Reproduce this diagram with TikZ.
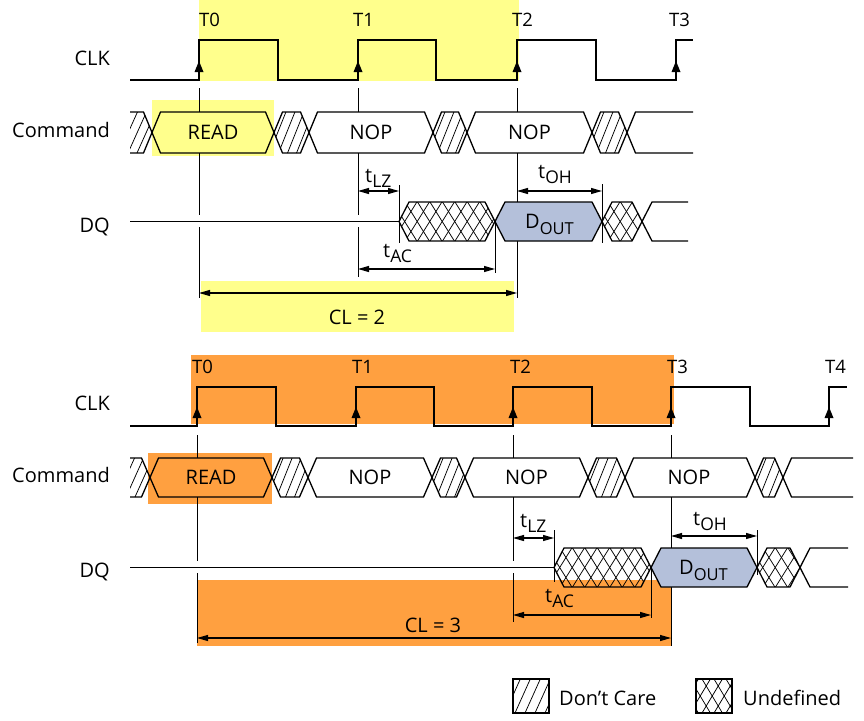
\documentclass[tikz,border=0pt]{standalone}
\usepackage{fontspec}
\setmainfont{Open Sans}
\usetikzlibrary{arrows.meta}
\definecolor{hlyellow}{RGB}{255,255,140}
\definecolor{hlorange}{RGB}{255,160,64}
\definecolor{doutblue}{RGB}{180,192,218}
\tikzset{
  sig/.style={line width=1.3pt, line join=miter},
  guide/.style={line width=1pt},
  hatchline/.style={line width=0.75pt},
  dimarrow/.style={line width=1.1pt, {Triangle[length=11pt,width=6pt]}-{Triangle[length=11pt,width=6pt]}},
  lbl/.style={font=\fontsize{20}{24}\selectfont, inner sep=0pt},
  tlbl/.style={font=\fontsize{18.5}{20}\selectfont, inner sep=0pt, anchor=base west},
  rowlbl/.style={lbl, anchor=base east},
  sublbl/.style={lbl, anchor=base west},
  boxfill/.style={fill=doutblue},
}
\newcommand\subtxt[1]{\raisebox{-5pt}{\fontsize{17.5}{17.5}\selectfont #1}}
\newcommand\dsubtxt[1]{\raisebox{-6pt}{\fontsize{16.5}{16.5}\selectfont #1}}
\newcommand\hexp[5]{(#1,#3) -- ({#1+#5},{#3-#4}) -- ({#2-#5},{#3-#4}) -- (#2,#3) -- ({#2-#5},{#3+#4}) -- ({#1+#5},{#3+#4}) -- cycle}
% don't-care hatched hexagon: xl xr ym h w
\newcommand\dchex[5]{%
  \begin{scope}\clip \hexp{#1}{#2}{#3}{#4}{#5};
    \foreach \k in {-3,...,8} {\draw[hatchline] ({#1+4.5+(\k)*9},{#3+#4}) -- ({#1+4.5+(\k)*9+0.8*#4},{#3-#4});}
  \end{scope}
  \draw[sig] \hexp{#1}{#2}{#3}{#4}{#5};}
% undefined cross-hatched hexagon: xl xr ym h w
\newcommand\uxhex[5]{%
  \begin{scope}\clip \hexp{#1}{#2}{#3}{#4}{#5};
    \foreach \k in {-3,...,10} {\draw[hatchline] ({#1+6+(\k)*12.5},{#3+#4}) -- ({#1+6+(\k)*12.5+1.25*#4},{#3-#4});
      \draw[hatchline] ({#1+6+(\k)*12.5},{#3-#4}) -- ({#1+6+(\k)*12.5+1.25*#4},{#3+#4});}
  \end{scope}
  \draw[sig] \hexp{#1}{#2}{#3}{#4}{#5};}
% hatch inside arbitrary clip path: path, xstart, ytop, ybot, spacing
\newcommand\dcclip[5]{%
  \begin{scope}\clip #1;
    \foreach \k in {-4,...,6} {\draw[hatchline] ({#2+(\k)*#5},#4) -- ({#2+(\k)*#5+0.45*(#4-#3)},#3);}
  \end{scope}}
\newcommand\uxclip[5]{%
  \begin{scope}\clip #1;
    \foreach \k in {-4,...,6} {\draw[hatchline] ({#2+(\k)*#5},#4) -- ({#2+(\k)*#5+0.6*(#4-#3)},#3);
      \draw[hatchline] ({#2+(\k)*#5},#3) -- ({#2+(\k)*#5+0.6*(#4-#3)},#4);}
  \end{scope}}
\newcommand\edgetri[2]{\fill ({#1-4.5},{#2-8}) -- ({#1+4.5},{#2-8}) -- (#1,{#2-19}) -- cycle;}
\begin{document}
\begin{tikzpicture}[x=1pt,y=-1pt]
\useasboundingbox (0,0) rectangle (864,720);
% ---------- highlight backgrounds ----------
\fill[hlyellow] (199,0) rectangle (519,81);
\fill[hlyellow] (152,100) rectangle (274,156);
\fill[hlyellow] (201,281) rectangle (514,332);
\fill[hlorange] (191,355) rectangle (674,424);
\fill[hlorange] (148,453) rectangle (272,504);
\fill[hlorange] (197,580) rectangle (672,646);

% ---------- row labels ----------
\node[rowlbl] (clkA) at (110,65) {CLK};
\node[rowlbl] (cmdA) at (110,137) {Command};
\node[rowlbl] (dqA) at (110,232) {DQ};
\node[rowlbl] (clkB) at (110,410) {CLK};
\node[rowlbl] (cmdB) at (110,482) {Command};
\node[rowlbl] (dqB) at (110,577) {DQ};

% ================= TOP DIAGRAM (CL = 2) =================
\draw[sig] (130,80) -- (199,80) -- (199,40) -- (278,40) -- (278,80) -- (358,80) -- (358,40) -- (436,40) -- (436,80) -- (517,80) -- (517,40) -- (596,40) -- (596,80) -- (676,80) -- (676,40) -- (693,40);
\foreach \x in {199,358,517,676} {\edgetri{\x}{80}}
\node[tlbl] (t0A) at (199,27) {T0};
\node[tlbl] (t1A) at (353,27) {T1};
\node[tlbl] (t2A) at (512,27) {T2};
\node[tlbl] (t3A) at (669,27) {T3};

% guide lines
\draw[guide] (199,88) -- (199,112) (199,153) -- (199,215) (199,227) -- (199,298);
\draw[guide] (358,88) -- (358,112) (358,153) -- (358,215) (358,227) -- (358,277);
\draw[guide] (517,88) -- (517,112) (517,153) -- (517,202) (517,241) -- (517,298);

% command row
\dcclip{(130,112) -- (143.5,112) -- (152,132.5) -- (143.5,153) -- (130,153) -- cycle}{128}{112}{153}{9}
\draw[sig] (130,112) -- (143.5,112) -- (152,132.5) -- (143.5,153) -- (130,153);
\draw[sig] \hexp{152}{274}{132.5}{20.5}{8.5};
\dchex{274}{309}{132.5}{20.5}{8.5}
\draw[sig] \hexp{309}{433}{132.5}{20.5}{8.5};
\dchex{433}{467}{132.5}{20.5}{8.5}
\draw[sig] \hexp{467}{592}{132.5}{20.5}{8.5};
\dchex{592}{627}{132.5}{20.5}{8.5}
\draw[sig] (693,112) -- (635.5,112) -- (627,132.5) -- (635.5,153) -- (693,153);
\node[lbl] (readA) at (213,132.5) {READ};
\node[lbl] (nop1A) at (371,132.5) {NOP};
\node[lbl] (nop2A) at (529.5,132.5) {NOP};

% DQ row
\draw[sig] (130,221.5) -- (399,221.5);
\uxhex{399}{495}{221.5}{19.5}{10}
\draw[sig, boxfill] \hexp{495}{602}{221.5}{19.5}{10};
\uxhex{602}{642}{221.5}{19.5}{10}
\draw[sig] (688,202) -- (652,202) -- (642,221.5) -- (652,241) -- (688,241);
\node[sublbl] (doutA) at (525,228) {D\dsubtxt{OUT}};

% ticks and timing arrows
\draw[guide] (399,185) -- (399,243);
\draw[guide] (602,184) -- (602,243);
\draw[guide] (495,221.5) -- (495,273);
\coordinate (lzA1) at (358,191); \coordinate (lzA2) at (399,191);
\coordinate (ohA1) at (517,191); \coordinate (ohA2) at (602,191);
\coordinate (acA1) at (358,269); \coordinate (acA2) at (495,269);
\coordinate (clA1) at (199,293); \coordinate (clA2) at (517,293);
\draw[dimarrow] (lzA1) -- (lzA2);
\draw[dimarrow] (ohA1) -- (ohA2);
\draw[dimarrow] (acA1) -- (acA2);
\draw[dimarrow] (clA1) -- (clA2);
\node[sublbl] (tlzA) at (365,182) {t\subtxt{LZ}};
\node[sublbl] (tohA) at (538,178) {t\subtxt{OH}};
\node[sublbl] (tacA) at (383,257) {t\subtxt{AC}};
\node[lbl] (cl2) at (357,317) {CL = 2};

% ================= BOTTOM DIAGRAM (CL = 3) =================
\draw[sig] (130,426) -- (197,426) -- (197,387) -- (276,387) -- (276,426) -- (356,426) -- (356,387) -- (434,387) -- (434,426) -- (513,426) -- (513,387) -- (592,387) -- (592,426) -- (671,426) -- (671,387) -- (750,387) -- (750,426) -- (829,426) -- (829,387) -- (847,387);
\foreach \x in {197,356,513,671,829} {\edgetri{\x}{426}}
\node[tlbl] (t0B) at (192,373) {T0};
\node[tlbl] (t1B) at (352,373) {T1};
\node[tlbl] (t2B) at (510,373) {T2};
\node[tlbl] (t3B) at (667,373) {T3};
\node[tlbl] (t4B) at (825,373) {T4};

% guide lines
\draw[guide] (197,435) -- (197,458) (197,497) -- (197,561) (197,573) -- (197,643);
\draw[guide] (513,435) -- (513,458) (513,497) -- (513,561) (513,573) -- (513,622);
\draw[guide] (671,435) -- (671,458) (671,497) -- (671,548) (671,587) -- (671,646);

% command row
\dcclip{(130,458) -- (141.5,458) -- (150,477.5) -- (141.5,497) -- (130,497) -- cycle}{126}{458}{497}{9}
\draw[sig] (130,458) -- (141.5,458) -- (150,477.5) -- (141.5,497) -- (130,497);
\draw[sig] \hexp{150}{272}{477.5}{19.5}{8.5};
\dchex{272}{308}{477.5}{19.5}{8.5}
\draw[sig] \hexp{308}{432}{477.5}{19.5}{8.5};
\dchex{432}{465}{477.5}{19.5}{8.5}
\draw[sig] \hexp{465}{588}{477.5}{19.5}{8.5};
\dchex{588}{625}{477.5}{19.5}{8.5}
\draw[sig] \hexp{625}{755}{477.5}{19.5}{8.5};
\dchex{755}{783}{477.5}{19.5}{8.5}
\draw[sig] (853,458) -- (791.5,458) -- (783,477.5) -- (791.5,497) -- (853,497);
\node[lbl] (readB) at (211,477.5) {READ};
\node[lbl] (nop1B) at (370,477.5) {NOP};
\node[lbl] (nop2B) at (526.5,477.5) {NOP};
\node[lbl] (nop3B) at (689,477.5) {NOP};

% DQ row
\draw[sig] (130,567.5) -- (554,567.5);
\uxhex{554}{651}{567.5}{19.5}{10}
\draw[sig, boxfill] \hexp{651}{757}{567.5}{19.5}{10};
\uxhex{757}{800}{567.5}{19.5}{10}
\draw[sig] (848,548) -- (810,548) -- (800,567.5) -- (810,587) -- (848,587);
\node[sublbl] (doutB) at (679,574) {D\dsubtxt{OUT}};

% ticks and timing arrows
\draw[guide] (554,530) -- (554,582);
\draw[guide] (757,530) -- (757,575);
\draw[guide] (651,567.5) -- (651,618);
\coordinate (lzB1) at (513,538); \coordinate (lzB2) at (554,538);
\coordinate (ohB1) at (671,536); \coordinate (ohB2) at (757,536);
\coordinate (acB1) at (513,615); \coordinate (acB2) at (651,615);
\coordinate (clB1) at (197,638); \coordinate (clB2) at (671,638);
\draw[dimarrow] (lzB1) -- (lzB2);
\draw[dimarrow] (ohB1) -- (ohB2);
\draw[dimarrow] (acB1) -- (acB2);
\draw[dimarrow] (clB1) -- (clB2);
\node[sublbl] (tlzB) at (520,527) {t\subtxt{LZ}};
\node[sublbl] (tohB) at (693,525) {t\subtxt{OH}};
\node[sublbl] (tacB) at (545,602) {t\subtxt{AC}};
\node[lbl] (cl3) at (433,625) {CL = 3};

% ================= LEGEND =================
\dcclip{(513,679) rectangle (549,713)}{505}{679}{713}{10}
\draw[sig] (513,679) rectangle (549,713);
\node[sublbl] (dclbl) at (559,705) {Don’t Care};
\uxclip{(696,679) rectangle (732,713)}{690}{679}{713}{12}
\draw[sig] (696,679) rectangle (732,713);
\node[sublbl] (uxlbl) at (743,705) {Undefined};
\end{tikzpicture}
\end{document}
